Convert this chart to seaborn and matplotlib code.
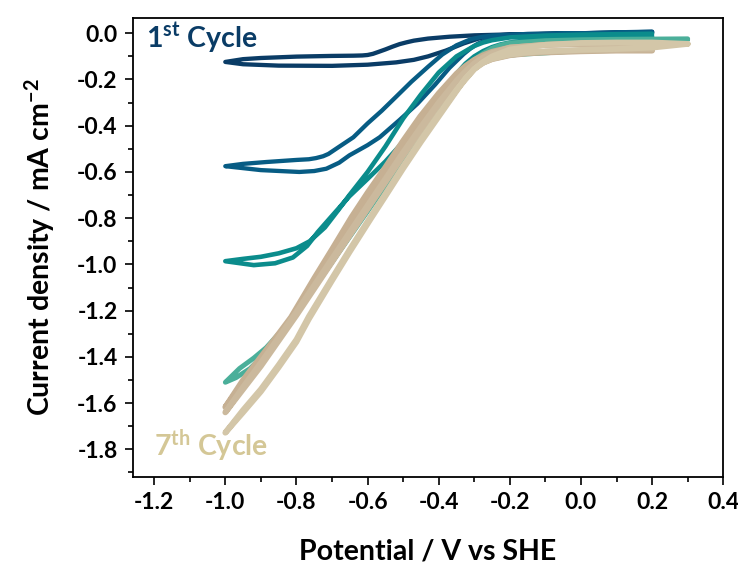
import matplotlib
matplotlib.use("Agg")
import matplotlib.pyplot as plt
import matplotlib.ticker as ticker
import seaborn as sns

# each loop: down the first branch from the turning point to -1.0 V, then back up
c1_x = [0.2, 0.1, 0.0, -0.1, -0.2, -0.25, -0.29, -0.33, -0.38, -0.43, -0.47, -0.52, -0.6, -0.7, -0.85, -0.95, -1.0,
        -0.95, -0.9, -0.8, -0.7, -0.64, -0.615, -0.6, -0.585, -0.57, -0.55, -0.53, -0.51, -0.49, -0.47, -0.43, -0.37, -0.3, -0.2, -0.1, 0.0, 0.1, 0.2]
c1_y = [0.004, 0.002, 0.0, -0.003, -0.007, -0.009, -0.024, -0.044, -0.075, -0.1, -0.115, -0.126, -0.136, -0.141, -0.14, -0.134, -0.124,
        -0.112, -0.107, -0.101, -0.098, -0.097, -0.096, -0.094, -0.089, -0.081, -0.07, -0.058, -0.047, -0.039, -0.032, -0.023, -0.015, -0.009, -0.005, -0.002, 0.0, 0.003, 0.006]

c2_x = [0.2, 0.1, 0.0, -0.1, -0.2, -0.25, -0.27, -0.29, -0.31, -0.33, -0.37, -0.41, -0.46, -0.51, -0.566, -0.6, -0.651, -0.68, -0.716, -0.75, -0.792, -0.9, -1.0,
        -0.95, -0.885, -0.8, -0.765, -0.745, -0.725, -0.71, -0.679, -0.64, -0.6, -0.56, -0.52, -0.477, -0.43, -0.39, -0.35, -0.31, -0.28, -0.25, -0.15, 0.0, 0.1, 0.2]
c2_y = [0.003, 0.001, -0.001, -0.004, -0.01, -0.022, -0.032, -0.045, -0.065, -0.09, -0.15, -0.222, -0.305, -0.375, -0.45, -0.484, -0.528, -0.56, -0.586, -0.596, -0.6, -0.592, -0.575,
        -0.565, -0.557, -0.548, -0.545, -0.54, -0.532, -0.522, -0.49, -0.45, -0.39, -0.335, -0.275, -0.21, -0.145, -0.092, -0.052, -0.026, -0.016, -0.01, -0.003, 0.0, 0.004, 0.007]

c3_x = [0.2, 0.1, 0.0, -0.1, -0.2, -0.225, -0.25, -0.275, -0.3, -0.325, -0.35, -0.4, -0.444, -0.5, -0.55, -0.6, -0.651, -0.7, -0.74, -0.77, -0.81, -0.86, -0.92, -1.0,
        -0.95, -0.9, -0.85, -0.8, -0.763, -0.72, -0.68, -0.651, -0.6, -0.55, -0.5, -0.45, -0.4, -0.35, -0.3, -0.275, -0.25, -0.2, -0.1, 0.0, 0.1, 0.2]
c3_y = [-0.013, -0.015, -0.018, -0.024, -0.04, -0.048, -0.06, -0.077, -0.1, -0.132, -0.175, -0.28, -0.369, -0.47, -0.555, -0.63, -0.705, -0.79, -0.86, -0.92, -0.97, -0.995, -1.003, -0.986,
        -0.976, -0.967, -0.952, -0.93, -0.9, -0.84, -0.76, -0.7, -0.6, -0.49, -0.369, -0.265, -0.17, -0.1, -0.055, -0.04, -0.03, -0.018, -0.01, -0.006, -0.004, -0.002]

c4_x = [0.3, 0.2, 0.1, 0.0, -0.1, -0.18, -0.23, -0.255, -0.28, -0.305, -0.33, -0.4, -0.45, -0.5, -0.55, -0.6, -0.65, -0.7, -0.75, -0.8, -0.84, -0.885, -0.93, -0.97, -1.0,
        -0.96, -0.92, -0.885, -0.838, -0.79, -0.75, -0.7, -0.65, -0.6, -0.55, -0.5, -0.45, -0.4, -0.35, -0.3, -0.275, -0.25, -0.225, -0.2, -0.1, 0.0, 0.1, 0.2, 0.3]
c4_y = [-0.028, -0.045, -0.065, -0.075, -0.085, -0.092, -0.1, -0.11, -0.13, -0.16, -0.2, -0.33, -0.44, -0.55, -0.66, -0.77, -0.88, -0.99, -1.1, -1.2, -1.29, -1.38, -1.45, -1.49, -1.51,
        -1.45, -1.405, -1.36, -1.28, -1.19, -1.1, -0.99, -0.875, -0.76, -0.645, -0.53, -0.415, -0.305, -0.2, -0.115, -0.087, -0.065, -0.051, -0.042, -0.032, -0.028, -0.026, -0.025, -0.024]

c5_x = [0.2, 0.1, 0.0, -0.1, -0.15, -0.2, -0.25, -0.275, -0.3, -0.325, -0.35, -0.4, -0.452, -0.5, -0.55, -0.6, -0.645, -0.7, -0.75, -0.815, -0.85, -0.9, -0.95, -1.0,
        -0.95, -0.9, -0.85, -0.815, -0.75, -0.7, -0.645, -0.6, -0.55, -0.5, -0.452, -0.4, -0.35, -0.325, -0.3, -0.275, -0.25, -0.2, -0.1, 0.0, 0.1, 0.2]
c5_y = [-0.075, -0.075, -0.078, -0.083, -0.087, -0.095, -0.112, -0.127, -0.148, -0.175, -0.21, -0.285, -0.38, -0.49, -0.6, -0.71, -0.81, -0.95, -1.075, -1.24, -1.315, -1.415, -1.515, -1.617,
        -1.5, -1.4, -1.3, -1.228, -1.06, -0.935, -0.795, -0.69, -0.58, -0.465, -0.36, -0.26, -0.175, -0.142, -0.115, -0.095, -0.08, -0.062, -0.05, -0.045, -0.045, -0.048]

c6_x = [0.2, 0.1, 0.0, -0.1, -0.15, -0.2, -0.25, -0.275, -0.3, -0.325, -0.35, -0.4, -0.45, -0.5, -0.55, -0.6, -0.65, -0.7, -0.75, -0.8, -0.85, -0.9, -0.95, -1.0,
        -0.95, -0.9, -0.85, -0.8, -0.75, -0.7, -0.65, -0.6, -0.55, -0.5, -0.45, -0.4, -0.35, -0.325, -0.3, -0.275, -0.25, -0.2, -0.1, 0.0, 0.1, 0.2]
c6_y = [-0.07, -0.072, -0.075, -0.08, -0.085, -0.093, -0.11, -0.127, -0.15, -0.182, -0.22, -0.31, -0.42, -0.53, -0.645, -0.76, -0.875, -0.99, -1.105, -1.22, -1.33, -1.44, -1.54, -1.64,
        -1.53, -1.425, -1.315, -1.205, -1.09, -0.975, -0.86, -0.745, -0.63, -0.515, -0.405, -0.3, -0.205, -0.165, -0.13, -0.104, -0.085, -0.062, -0.05, -0.047, -0.048, -0.052]

c7_x = [0.3, 0.2, 0.1, 0.0, -0.1, -0.15, -0.2, -0.25, -0.275, -0.3, -0.325, -0.35, -0.4, -0.45, -0.5, -0.55, -0.59, -0.65, -0.7, -0.765, -0.8, -0.85, -0.9, -0.95, -1.0,
        -0.95, -0.9, -0.85, -0.8, -0.765, -0.7, -0.65, -0.59, -0.55, -0.5, -0.45, -0.4, -0.35, -0.3, -0.275, -0.25, -0.2, -0.1, 0.0, 0.1, 0.2, 0.3]
c7_y = [-0.046, -0.062, -0.068, -0.072, -0.078, -0.083, -0.092, -0.11, -0.128, -0.155, -0.195, -0.25, -0.36, -0.47, -0.585, -0.705, -0.8, -0.945, -1.07, -1.236, -1.335, -1.445, -1.55, -1.64, -1.728,
        -1.63, -1.54, -1.435, -1.325, -1.225, -1.06, -0.935, -0.79, -0.695, -0.575, -0.46, -0.35, -0.245, -0.155, -0.124, -0.1, -0.07, -0.05, -0.042, -0.04, -0.04, -0.046]

cycles = [(c1_x, c1_y), (c2_x, c2_y), (c3_x, c3_y), (c4_x, c4_y),
          (c5_x, c5_y), (c6_x, c6_y), (c7_x, c7_y)]
colors = ['#0a3c66', '#075c84', '#0b8c8c', '#4baf9a', '#c6b093', '#cbb99d', '#d3c6a8']
widths = [3.1, 3.1, 3.3, 3.5, 4.2, 4.2, 4.2]

sns.set_style('ticks')
plt.rcParams['font.family'] = ['Lato', 'DejaVu Sans']
plt.rcParams['font.weight'] = 'bold'
plt.rcParams['mathtext.fontset'] = 'custom'
plt.rcParams['mathtext.rm'] = 'Lato:bold'
plt.rcParams['mathtext.it'] = 'Lato:bold'
plt.rcParams['mathtext.bf'] = 'Lato:bold'
for key in ['text.color', 'axes.labelcolor', 'xtick.color', 'ytick.color', 'axes.edgecolor']:
    plt.rcParams[key] = 'black'

fig = plt.figure(figsize=(7.38, 5.7), dpi=100)
ax = fig.add_axes([0.180, 0.163, 0.800, 0.805])

for (xs, ys), col, lw in zip(cycles, colors, widths):
    sns.lineplot(x=xs, y=ys, sort=False, estimator=None, color=col, lw=lw,
                 solid_capstyle='round', solid_joinstyle='round', ax=ax)

ax.text(-1.222, -0.06, r'1$^{\mathrm{st}}$ Cycle', color='#0a3c66', fontsize=20.5,
        fontweight='bold', ha='left', va='baseline')
ax.text(-1.2, -1.826, r'7$^{\mathrm{th}}$ Cycle', color='#d4c796', fontsize=20.5,
        fontweight='bold', ha='left', va='baseline')

ax.set_xlim(-1.26, 0.4)
ax.set_ylim(-1.92, 0.065)
ax.xaxis.set_major_locator(ticker.MultipleLocator(0.2))
ax.xaxis.set_minor_locator(ticker.MultipleLocator(0.1))
ax.yaxis.set_major_locator(ticker.MultipleLocator(0.2))
ax.yaxis.set_minor_locator(ticker.MultipleLocator(0.1))
fmt = ticker.FuncFormatter(lambda v, p: '{:.1f}'.format(v).replace('-0.0', '0.0'))
ax.xaxis.set_major_formatter(fmt)
ax.yaxis.set_major_formatter(fmt)
ax.tick_params(which='major', direction='out', length=6, width=1.2, labelsize=16.5, pad=5)
ax.tick_params(which='minor', direction='out', length=3.5, width=1.2)
for s in ax.spines.values():
    s.set_linewidth(1.3)

ax.set_xlabel('Potential / V vs SHE', fontsize=20.5, fontweight='bold', labelpad=18)
ax.set_ylabel(r'Current density / mA cm$^{\mathrm{-2}}$', fontsize=20.5, fontweight='bold', labelpad=14)

fig.savefig('out.png', dpi=100)
